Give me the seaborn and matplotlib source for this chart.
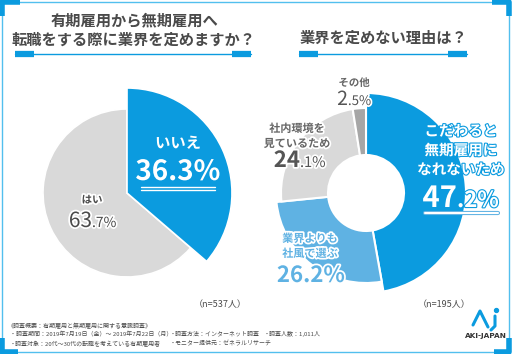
import matplotlib
matplotlib.use("Agg")
import matplotlib.pyplot as plt
import matplotlib.patheffects as pe
import seaborn as sns

# 有期雇用から無期雇用へ転職をする際に業界を定めますか？
q1_labels = ["いいえ", "はい"]
q1_values = [36.3, 63.7]
q1_n = 537

# 業界を定めない理由は？
q2_labels = ["こだわると\n無期雇用に\nなれないため", "業界よりも\n社風で選ぶ", "社内環境を\n見ているため", "その他"]
q2_values = [47.2, 26.2, 24.1, 2.5]
q2_n = 195

titles = ["有期雇用から無期雇用へ\n転職をする際に業界を定めますか？", "業界を定めない理由は？"]
notes = [
    "《調査概要：有期雇用と無期雇用に関する意識調査》",
    "・調査期間：2019年7月19日（金）～ 2019年7月22日（月）",
    "・調査方法：インターネット調査",
    "・調査人数：1,011人",
    "・調査対象：20代～30代の転職を考えている有期雇用者",
    "・モニター提供元：ゼネラルリサーチ",
]

sns.set_theme(style="white")
plt.rcParams["font.family"] = ["Noto Sans CJK JP", "DejaVu Sans"]

BLUE = "#0b9bdf"
LBLUE = "#5fb2e3"
GRAY = "#d9d9d9"
DGRAY = "#a6a6a6"
TXT = "#4a4a4a"
FRAME = "#52bfee"
pal = sns.color_palette([BLUE, LBLUE, GRAY, DGRAY])

W, H = 512, 354
fig = plt.figure(figsize=(W / 100, H / 100), dpi=100)
ax = fig.add_axes([0, 0, 1, 1])


def Y(y):
    return H - y


white_edge = [pe.withStroke(linewidth=2.5, foreground="white")]
blue_edge = [pe.withStroke(linewidth=1.6, foreground=BLUE)]

# ---- left pie
w1, _ = ax.pie(q1_values, colors=[pal[0], pal[2]], startangle=90, counterclock=False,
               center=(127, Y(193)), radius=84,
               wedgeprops=dict(edgecolor="white", linewidth=1.2))
w1[0].set_radius(105)
w1[0].set_zorder(3)

# ---- right donut
radii = [100, 90, 85, 85]
w2, _ = ax.pie(q2_values, colors=list(pal), startangle=90, counterclock=False,
               center=(366, Y(193)), radius=85,
               wedgeprops=dict(edgecolor="white", linewidth=1.5))
for w, r in zip(w2, radii):
    w.set_radius(r)
    w.set_width(r - 38)

ax.set_xlim(0, W)
ax.set_ylim(0, H)
ax.set_aspect("equal")
ax.axis("off")


def split_pct(v):
    s = f"{v:.1f}"
    a, b = s.split(".")
    return a, "." + b + "%"


# titles
ax.text(134, Y(30), titles[0], ha="center", va="center", fontsize=11, fontweight="bold",
        color=TXT, linespacing=1.3)
ax.text(383, Y(38), titles[1], ha="center", va="center", fontsize=11, fontweight="bold",
        color=TXT)
for x0, x1 in [(15, 251), (299, 467)]:
    ax.plot([x0, x1], [Y(54), Y(54)], color=BLUE, lw=1)
    ax.plot([x0, x0 + 19], [Y(54), Y(54)], color=BLUE, lw=4.5, solid_capstyle="butt")
    ax.plot([x1 - 19, x1], [Y(54), Y(54)], color=BLUE, lw=4.5, solid_capstyle="butt")

# left labels
ax.text(178, Y(143), q1_labels[0], ha="center", va="center", fontsize=11, fontweight="bold",
        color="white", path_effects=blue_edge, zorder=5)
ax.text(178, Y(180), f"{q1_values[0]:.1f}%", ha="center", va="baseline", fontsize=20,
        fontweight="bold", color="white", path_effects=blue_edge, zorder=5)
ax.plot([141, 215], [Y(187), Y(187)], color="white", lw=1, zorder=5)
ax.plot([141, 215], [Y(190), Y(190)], color="white", lw=1, zorder=5)

ax.text(92, Y(200), q1_labels[1], ha="center", va="center", fontsize=7.5, fontweight="bold",
        color=TXT, path_effects=white_edge, zorder=5)
a, b = split_pct(q1_values[1])
ax.text(92, Y(227), a, ha="right", va="baseline", fontsize=15, color=TXT,
        path_effects=white_edge, zorder=5)
ax.text(92, Y(227), b, ha="left", va="baseline", fontsize=10, color=TXT,
        path_effects=white_edge, zorder=5)

# right labels
ax.text(461, Y(150), q2_labels[0], ha="center", va="center", fontsize=10.5, fontweight="bold",
        color="white", path_effects=blue_edge, linespacing=1.25, zorder=5)
a, b = split_pct(q2_values[0])
ax.text(457, Y(207), a, ha="right", va="baseline", fontsize=21, fontweight="bold",
        color="white", path_effects=blue_edge, zorder=5)
ax.text(457, Y(207), b, ha="left", va="baseline", fontsize=16, fontweight="bold",
        color="white", path_effects=blue_edge, zorder=5)
ax.plot([425, 498], [Y(213), Y(213)], color="white", lw=1.5, zorder=5,
        path_effects=[pe.Stroke(linewidth=3, foreground=LBLUE), pe.Normal()])

ax.text(310, Y(246), q2_labels[1], ha="center", va="center", fontsize=8, fontweight="bold",
        color=LBLUE, path_effects=white_edge, linespacing=1.2, zorder=5)
ax.text(311, Y(282), f"{q2_values[1]:.1f}%", ha="center", va="baseline", fontsize=16,
        fontweight="bold", color=LBLUE, path_effects=white_edge, zorder=5)

ax.text(297, Y(136), q2_labels[2], ha="center", va="center", fontsize=8, fontweight="bold",
        color="#666666", path_effects=white_edge, linespacing=1.2, zorder=5)
a, b = split_pct(q2_values[2])
ax.text(300, Y(167), a, ha="right", va="baseline", fontsize=16, fontweight="bold",
        color="#555555", path_effects=white_edge, zorder=5)
ax.text(300, Y(167), b, ha="left", va="baseline", fontsize=10.5, color="#555555",
        path_effects=white_edge, zorder=5)

ax.text(354, Y(83), q2_labels[3], ha="center", va="center", fontsize=7.5, fontweight="bold",
        color="#666666", path_effects=white_edge, zorder=5)
a, b = split_pct(q2_values[3])
ax.text(348, Y(105), a, ha="right", va="baseline", fontsize=14, color="#555555",
        path_effects=white_edge, zorder=5)
ax.text(348, Y(105), b, ha="left", va="baseline", fontsize=9.5, color="#555555",
        path_effects=white_edge, zorder=5)

# sample sizes
ax.text(220, Y(305), f"（n={q1_n}人）", ha="center", va="center", fontsize=6.5, color=TXT)
ax.text(444, Y(305), f"（n={q2_n}人）", ha="center", va="center", fontsize=6.5, color=TXT)

# footnotes
fn = dict(fontsize=4.3, color=TXT, va="center", ha="left")
ax.text(8, Y(326), notes[0], **fn)
ax.text(10, Y(334), notes[1], **fn)
ax.text(170, Y(334), notes[2], **fn)
ax.text(264, Y(334), notes[3], **fn)
ax.text(10, Y(343), notes[4], **fn)
ax.text(170, Y(343), notes[5], **fn)

# logo
ax.plot([473, 480, 488], [Y(325), Y(311), Y(327)], color=BLUE, lw=2.2, solid_capstyle="round")
ax.plot([495, 495, 491], [Y(316), Y(326), Y(330)], color=BLUE, lw=2.2, solid_capstyle="round")
ax.scatter([496], [Y(310)], s=8, color=BLUE, zorder=5)
ax.text(486, Y(336), "AKI-JAPAN", ha="center", va="center", fontsize=5.3, fontweight="bold",
        color="#333333", family=["DejaVu Sans"])

# frame
kw = dict(color=FRAME, lw=1, clip_on=False)
ax.plot([2, 509, 509, 2, 2], [Y(1.5), Y(1.5), Y(352), Y(352), Y(1.5)], **kw)
thick = dict(color=BLUE, lw=4, clip_on=False, solid_capstyle="butt")
ax.plot([2, 2, 20], [Y(16), Y(1.5), Y(1.5)], **thick)
ax.plot([492, 509, 509], [Y(1.5), Y(1.5), Y(16)], **thick)
ax.plot([2, 2, 18], [Y(338), Y(352), Y(352)], **thick)
ax.plot([494, 509, 509], [Y(352), Y(352), Y(338)], **thick)

fig.savefig("out.png", dpi=100)
